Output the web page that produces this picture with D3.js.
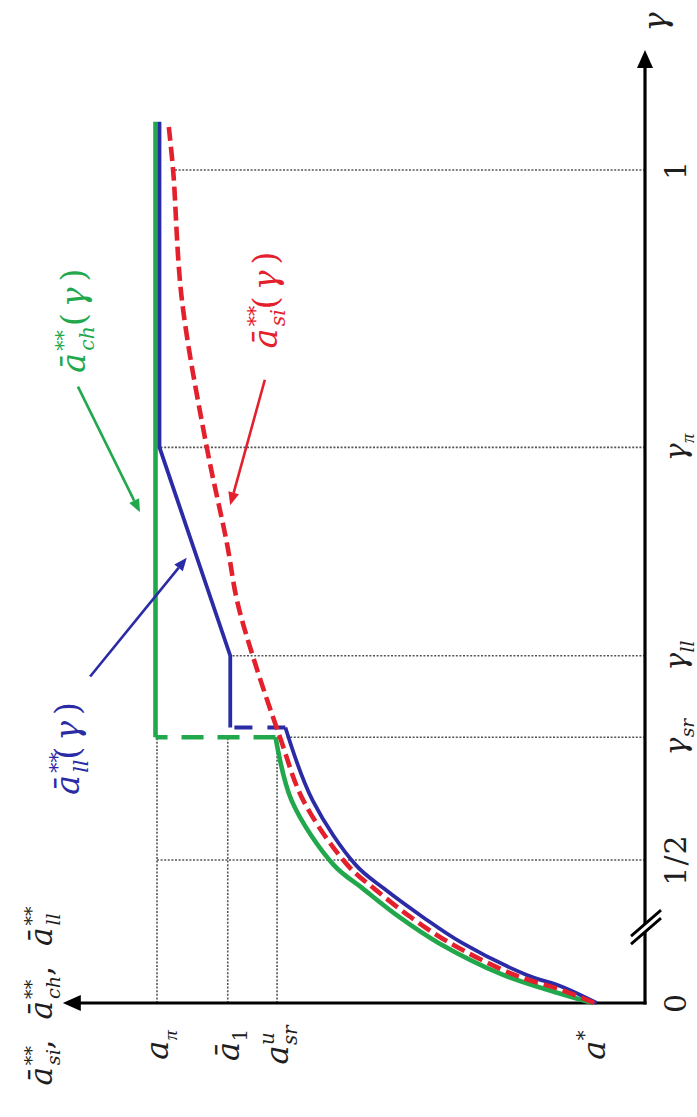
<!DOCTYPE html>
<html><head><meta charset="utf-8">
<script src="https://cdn.jsdelivr.net/npm/d3@7"></script>
<style>
body{margin:0;background:#fff}
svg{display:block}
text{font-family:"DejaVu Serif","Liberation Serif",serif}
</style>
</head><body>
<svg id="c" width="697" height="1117"></svg>
<script>
// ---------------- data ----------------
const gammaTickValues = [0, 0.5, 0.589, 0.648, 0.799, 1];
const gammaTickNames  = ["0", "1/2", "γsr", "γll", "γπ", "1"];
const valueTickValues = [0.104, 0.754, 0.855, 1.0];
const valueTickNames  = ["a*", "aUsr", "ā1", "aπ"];

// curve ā_si (red dashed)
const siGamma = [0, 0.045, 0.1, 0.21, 0.3, 0.4, 0.483, 0.543, 0.589, 0.647, 0.688, 0.73, 0.799, 0.906, 1.0, 1.035];
const siValue = [0.104, 0.17, 0.27, 0.40, 0.48, 0.555, 0.61, 0.70, 0.748, 0.803, 0.836, 0.857, 0.898, 0.949, 0.967, 0.977];

// curve ā_ch (green)
const chGamma = [0, 0.035, 0.1, 0.21, 0.3, 0.4, 0.483, 0.543, 0.589];
const chValue = [0.104, 0.175, 0.29, 0.42, 0.50, 0.575, 0.635, 0.721, 0.754];
const chJumpGamma = 0.589, chTopValue = 1.0, curveEndGamma = 1.035;

// curve ā_ll (blue)
const llGamma = [0, 0.056, 0.1, 0.21, 0.3, 0.4, 0.483, 0.543, 0.596];
const llValue = [0.104, 0.174, 0.25, 0.38, 0.46, 0.54, 0.598, 0.686, 0.742];
const llJumpGamma = 0.596, llMidValue = 0.855, llKinkGamma = 0.648, llTopGamma = 0.799, llTopValue = 1.0;

// annotation arrows [fromGamma, fromValue, toGamma, toValue]
const chArrow = [0.843, 1.162, 0.752, 1.035];
const siArrow = [0.848, 0.779, 0.757, 0.850];
const llArrow = [0.633, 1.137, 0.719, 0.939];
// annotation label anchors [gamma, value]
const chLabelPos = [0.893, 1.148];
const siLabelPos = [0.908, 0.755];
const llLabelPos = [0.583, 1.160];

// ---------------- scales ----------------
// original chart rotated 90° counter-clockwise: gamma runs up, value runs left
const G = d3.scaleLinear().domain([0, 0.5, 1]).range([1003, 860, 170]);
const V = d3.scaleLinear().domain([0, 1]).range([645, 157]);
const gammaMax = 1.087, valueMax = 1.193, breakGamma = 0.248;

const svg = d3.select("#c");
const GREEN = "#22a84c", BLUE = "#2b2ba6", RED = "#e3202b", GRID = "#555", INK = "#1e1e1e";

// ---------------- helpers ----------------
function mathLabel(x, y, parts, size, color, ls) {
  const t = svg.append("text")
    .attr("transform", `translate(${x},${y}) rotate(-90)`)
    .attr("text-anchor", "middle").attr("font-size", size).attr("fill", color);
  let base = 0, lastW = 0;
  parts.forEach(p => {
    const ts = t.append("tspan").text(p.t);
    if (p.i) ts.attr("font-style", "italic");
    if (p.f) ts.attr("font-family", p.f);
    let target = 0, fs = size;
    if (p.sup) { target = -0.45 * size; fs = 0.62 * size; }
    if (p.sub) { target = 0.27 * size; fs = 0.62 * size; }
    ts.attr("font-size", fs).attr("dy", target - base)
      .attr("letter-spacing", (p.sup || p.sub) ? 0 : (ls || 0));
    if (p.stack) ts.attr("dx", -lastW);
    else if ((p.sup || p.sub) && ls) ts.attr("dx", -ls * 0.6);
    base = target;
    lastW = ts.node().getComputedTextLength();
  });
  return t;
}
const PI = {t:"π", sub:1, i:1, f:"Liberation Serif"};
const partsFor = {
  "0": [{t:"0"}], "1/2": [{t:"1/2"}], "1": [{t:"1"}],
  "γsr": [{t:"γ", i:1}, {t:"sr", i:1, sub:1}],
  "γll": [{t:"γ", i:1}, {t:"ll", i:1, sub:1}],
  "γπ": [{t:"γ", i:1}, PI],
  "a*": [{t:"a", i:1}, {t:"*", sup:1}],
  "aUsr": [{t:"a", i:1}, {t:"u", i:1, sup:1}, {t:"sr", i:1, sub:1, stack:1}],
  "ā1": [{t:"ā", i:1}, {t:"1", sub:1}],
  "aπ": [{t:"a", i:1}, PI]
};
function starred(sub) {
  return [{t:"ā", i:1}, {t:"**", sup:1}, {t:sub, i:1, sub:1, stack:1}];
}

// ---------------- grid (dotted) ----------------
const gridG = svg.append("g").attr("stroke", GRID).attr("stroke-width", 1.6)
  .attr("stroke-dasharray", "2,1.6").attr("fill", "none");
[valueTickValues[1], valueTickValues[2], valueTickValues[3]].forEach(v => {
  gridG.append("line").attr("x1", V(v)).attr("x2", V(v)).attr("y1", G(0)).attr("y2", G(gammaTickValues[2]));
});
const gridEnds = [null, valueTickValues[3], siValue[8] - 0.01, llMidValue, 0.993, 0.967];
gammaTickValues.forEach((g, i) => {
  if (gridEnds[i] === null) return;
  gridG.append("line").attr("x1", V(0)).attr("x2", V(gridEnds[i])).attr("y1", G(g)).attr("y2", G(g));
});

// ---------------- axes ----------------
const axG = svg.append("g");
axG.append("line").attr("x1", V(0)).attr("x2", V(0)).attr("y1", G(0) + 1.5).attr("y2", G(gammaMax) + 14)
  .attr("stroke", "#000").attr("stroke-width", 3.2);
axG.append("line").attr("x1", V(0) + 1.5).attr("x2", V(valueMax) + 14).attr("y1", G(0)).attr("y2", G(0))
  .attr("stroke", "#000").attr("stroke-width", 3.2);
axG.append("path").attr("d", `M${V(0)},${G(gammaMax)} l-8,18 l16,0 z`).attr("fill", "#000");
axG.append("path").attr("d", `M${V(valueMax)},${G(0)} l18,-8 l0,16 z`).attr("fill", "#000");
const by = G(breakGamma), bx = V(0);
axG.append("path").attr("d", `M${bx-14},${by+12} L${bx+16},${by-14} L${bx+16},${by-22} L${bx-14},${by+4} Z`).attr("fill", "#fff");
axG.append("path").attr("d", `M${bx-14},${by+12} L${bx+16},${by-14} M${bx-14},${by+4} L${bx+16},${by-22}`)
  .attr("stroke", "#000").attr("stroke-width", 2.8);

// tick labels
gammaTickValues.forEach((g, i) => {
  mathLabel(V(0) + 41, G(g), partsFor[gammaTickNames[i]], 30, INK, 1);
});
valueTickValues.forEach((v, i) => {
  mathLabel(V(v) + 11, G(0) + 42, partsFor[valueTickNames[i]], 32, INK, 1);
});
// axis titles
mathLabel(V(0) + 21, G(gammaMax) - 28, [{t:"γ", i:1}], 32, INK);
mathLabel(52, 996, [...starred("si"), {t:", "}, ...starred("ch"), {t:", "}, ...starred("ll")], 31, INK, 5);

// ---------------- curves ----------------
const zip = (gs, vs) => gs.map((g, i) => ({g, v: vs[i]}));
const smooth = d3.line().x(d => V(d.v)).y(d => G(d.g)).curve(d3.curveCatmullRom.alpha(0.5));
const straight = d3.line().x(d => V(d.v)).y(d => G(d.g));

const cg = svg.append("g").attr("fill", "none").attr("stroke", GREEN).attr("stroke-width", 4.6).attr("transform", "translate(-1.5,0)");
cg.append("path").attr("d", smooth(zip(chGamma, chValue)));
cg.append("path").attr("d", straight([{g: chJumpGamma, v: chValue[chValue.length-1]}, {g: chJumpGamma, v: chTopValue}]))
  .attr("stroke-dasharray", "22,14");
cg.append("path").attr("d", straight([{g: chJumpGamma, v: chTopValue}, {g: curveEndGamma, v: chTopValue}]));

const bg = svg.append("g").attr("fill", "none").attr("stroke", BLUE).attr("stroke-width", 3.8).attr("transform", "translate(2.5,0)");
bg.append("path").attr("d", smooth(zip(llGamma, llValue)));
bg.append("path").attr("d", straight([{g: llJumpGamma, v: llValue[llValue.length-1]}, {g: llJumpGamma, v: llMidValue}]))
  .attr("stroke-dasharray", "18,15");
bg.append("path").attr("d", straight([{g: llJumpGamma, v: llMidValue}, {g: llKinkGamma, v: llMidValue},
  {g: llTopGamma, v: llTopValue}, {g: curveEndGamma, v: llTopValue}]));

svg.append("path").attr("d", smooth(zip(siGamma, siValue))).attr("fill", "none")
  .attr("stroke", RED).attr("stroke-width", 4.6).attr("stroke-dasharray", "14,6");

// ---------------- annotations ----------------
function arrow(a, color) {
  const x1 = V(a[1]), y1 = G(a[0]), x2 = V(a[3]), y2 = G(a[2]);
  const ang = Math.atan2(y2 - y1, x2 - x1);
  const L = 13, W = 5.5;
  const bxp = x2 - L * Math.cos(ang), byp = y2 - L * Math.sin(ang);
  svg.append("line").attr("x1", x1).attr("y1", y1).attr("x2", bxp).attr("y2", byp)
    .attr("stroke", color).attr("stroke-width", 2.6);
  svg.append("path").attr("d", `M${x2},${y2} L${bxp + W*Math.sin(ang)},${byp - W*Math.cos(ang)} L${bxp - W*Math.sin(ang)},${byp + W*Math.cos(ang)} Z`)
    .attr("fill", color);
}
arrow(chArrow, GREEN);
arrow(siArrow, RED);
arrow(llArrow, BLUE);

const curveLab = (s) => [...starred(s), {t:"("}, {t:"γ", i:1}, {t:")"}];
mathLabel(V(chLabelPos[1]), G(chLabelPos[0]), curveLab("ch"), 33, GREEN, 6);
mathLabel(V(siLabelPos[1]), G(siLabelPos[0]), curveLab("si"), 33, RED, 6);
mathLabel(V(llLabelPos[1]), G(llLabelPos[0]), curveLab("ll"), 33, BLUE, 6);
</script>
</body></html>
